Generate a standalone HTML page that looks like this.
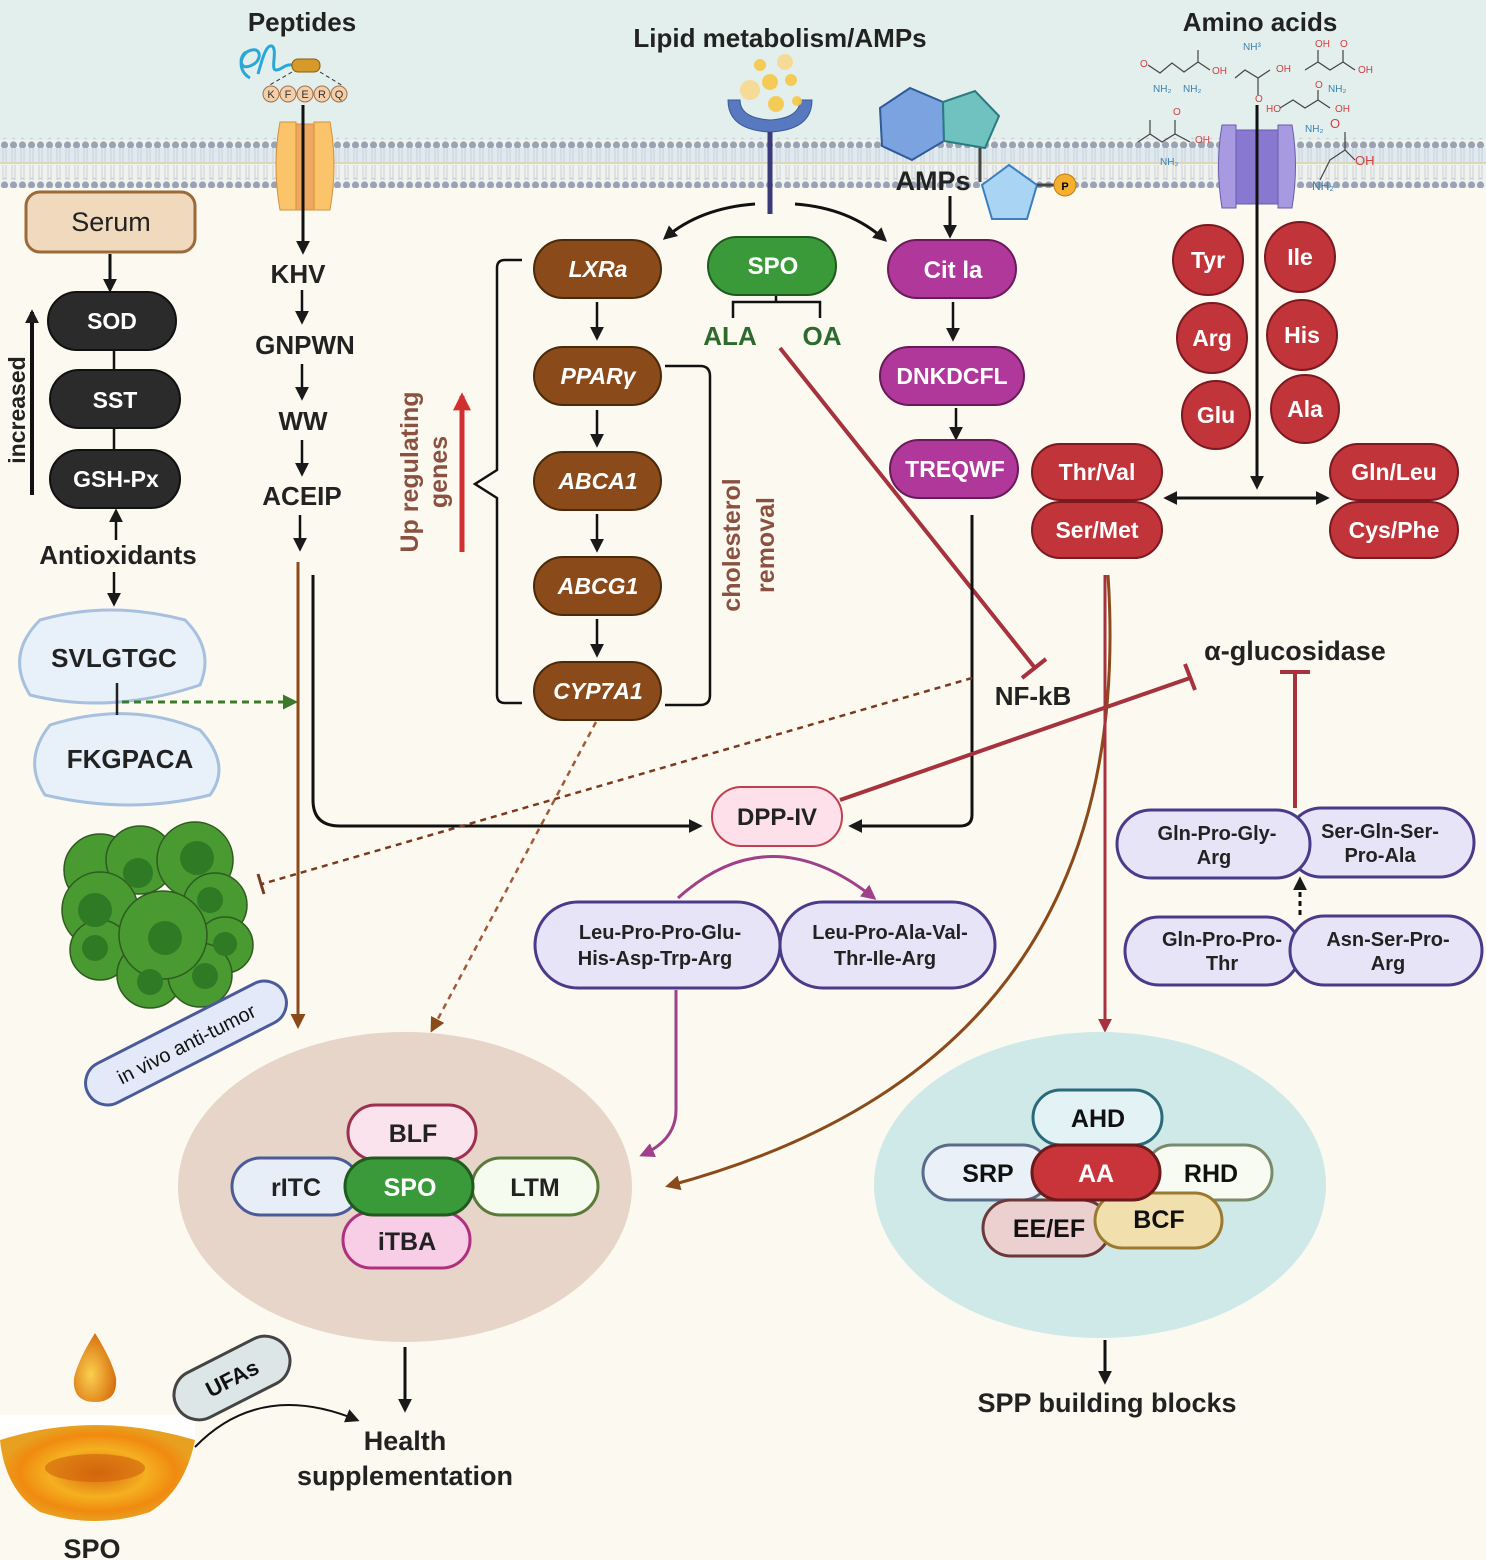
<!DOCTYPE html>
<html><head><meta charset="utf-8"><style>
html,body{margin:0;padding:0;background:#fcfaf0;}
svg{display:block;font-family:"Liberation Sans",sans-serif;}
.b{font-weight:bold;}
</style></head><body>
<svg width="1486" height="1560" viewBox="0 0 1486 1560" xmlns="http://www.w3.org/2000/svg">
<defs>
<pattern id="heads" x="0" y="0" width="9" height="10" patternUnits="userSpaceOnUse"><circle cx="4.5" cy="5" r="3.6" fill="#9aa3b5"/></pattern>
<pattern id="tails" x="0" y="0" width="9" height="18" patternUnits="userSpaceOnUse"><path d="M3 0 L3 18 M6 0 L6 18" stroke="#c3c8d3" stroke-width="0.8"/></pattern>
<marker id="ak" viewBox="0 0 10 10" refX="8" refY="5" markerWidth="14" markerHeight="14" markerUnits="userSpaceOnUse" orient="auto"><path d="M0 0 L10 5 L0 10 z" fill="#1a1a1a"/></marker>
<marker id="abr" viewBox="0 0 10 10" refX="8" refY="5" markerWidth="15" markerHeight="15" markerUnits="userSpaceOnUse" orient="auto"><path d="M0 0 L10 5 L0 10 z" fill="#8a4a1a"/></marker>
<marker id="ar" viewBox="0 0 10 10" refX="8" refY="5" markerWidth="14" markerHeight="14" markerUnits="userSpaceOnUse" orient="auto"><path d="M0 0 L10 5 L0 10 z" fill="#a5323c"/></marker>
<marker id="ared" viewBox="0 0 10 10" refX="8" refY="5" markerWidth="18" markerHeight="18" markerUnits="userSpaceOnUse" orient="auto"><path d="M0 0 L10 5 L0 10 z" fill="#d03030"/></marker>
<marker id="ap" viewBox="0 0 10 10" refX="8" refY="5" markerWidth="15" markerHeight="15" markerUnits="userSpaceOnUse" orient="auto"><path d="M0 0 L10 5 L0 10 z" fill="#a0408a"/></marker>
<marker id="ag" viewBox="0 0 10 10" refX="8" refY="5" markerWidth="15" markerHeight="15" markerUnits="userSpaceOnUse" orient="auto"><path d="M0 0 L10 5 L0 10 z" fill="#3a7a2a"/></marker>
<radialGradient id="oil" cx="50%" cy="50%" r="50%"><stop offset="0" stop-color="#d86a10"/><stop offset="0.5" stop-color="#f5b020"/><stop offset="0.8" stop-color="#f08a10"/><stop offset="1" stop-color="#e8a020"/></radialGradient>
<radialGradient id="drop" cx="40%" cy="60%" r="60%"><stop offset="0" stop-color="#fbd050"/><stop offset="1" stop-color="#d87010"/></radialGradient>
</defs>

<rect x="0" y="0" width="1486" height="140" fill="#e3efec"/>
<rect x="0" y="140" width="1486" height="48" fill="#f0f2ee"/>
<rect x="0" y="148" width="1486" height="14" fill="#dfe9f0"/>
<rect x="0" y="148" width="1486" height="15" fill="url(#tails)"/>
<rect x="0" y="165" width="1486" height="15" fill="url(#tails)"/>
<line x1="0" y1="163" x2="1486" y2="163" stroke="#ddd6b8" stroke-width="2"/>
<rect x="0" y="138" width="1486" height="10" fill="url(#heads)"/>
<rect x="0" y="178" width="1486" height="10" fill="url(#heads)"/>

<text x="302" y="31" class="b" font-size="26" text-anchor="middle" fill="#222">Peptides</text>
<text x="780" y="47" class="b" font-size="26" text-anchor="middle" fill="#222">Lipid metabolism/AMPs</text>
<text x="1260" y="31" class="b" font-size="26" text-anchor="middle" fill="#222">Amino acids</text>

<path d="M250 78 C236 70 240 52 252 50 C262 48 262 62 250 66 C240 70 238 58 246 52 M258 74 C262 60 266 44 272 46 C278 50 270 70 276 70 C282 70 284 64 292 65" fill="none" stroke="#29a8d8" stroke-width="3"/>
<rect x="292" y="59" width="28" height="13" rx="6" fill="#d59a2a" stroke="#8a5a10"/>
<path d="M292 72 L268 86 M320 72 L343 86" stroke="#333" stroke-dasharray="4 3"/>
<g font-size="11" text-anchor="middle" fill="#333">
<circle cx="271" cy="94" r="8" fill="#f5cfa8" stroke="#a07050"/><text x="271" y="98">K</text>
<circle cx="288" cy="94" r="8" fill="#f5cfa8" stroke="#a07050"/><text x="288" y="98">F</text>
<circle cx="305" cy="94" r="8" fill="#f5cfa8" stroke="#a07050"/><text x="305" y="98">E</text>
<circle cx="322" cy="94" r="8" fill="#f5cfa8" stroke="#a07050"/><text x="322" y="98">R</text>
<circle cx="339" cy="94" r="8" fill="#f5cfa8" stroke="#a07050"/><text x="339" y="98">Q</text>
</g>
<path d="M280 122 Q272 165 280 210 L296 210 L296 122 Z" fill="#fcc46a" stroke="#d09040"/>
<path d="M330 122 Q338 165 330 210 L314 210 L314 122 Z" fill="#fcc46a" stroke="#d09040"/>
<rect x="296" y="124" width="18" height="86" fill="#eea860" stroke="#d09040"/>
<line x1="303" y1="105" x2="303" y2="252" stroke="#111" stroke-width="3" marker-end="url(#ak)"/>

<path d="M728 100 Q728 130 770 132 Q812 130 812 100 L800 100 Q800 118 770 120 Q740 118 740 100 Z" fill="#5878c0" stroke="#3a5a9a"/>
<line x1="770" y1="132" x2="770" y2="214" stroke="#3a3a7a" stroke-width="5"/>
<g fill="#f8c848" opacity="0.9"><circle cx="760" cy="65" r="6"/><circle cx="785" cy="62" r="8" fill="#f8d890"/><circle cx="770" cy="82" r="8"/><circle cx="791" cy="80" r="6"/><circle cx="750" cy="90" r="10" fill="#f8d890"/><circle cx="776" cy="104" r="8"/><circle cx="797" cy="101" r="5"/></g>
<path d="M755 204 Q700 208 665 238" fill="none" stroke="#111" stroke-width="3" marker-end="url(#ak)"/>
<path d="M795 204 Q850 208 885 240" fill="none" stroke="#111" stroke-width="3" marker-end="url(#ak)"/>

<polygon points="880,108 910,88 943,102 944,141 912,160 882,146" fill="#7aa3e0" stroke="#2e5a9a" stroke-width="2"/>
<polygon points="943,102 975,91 999,116 985,148 944,141" fill="#6fc2c0" stroke="#2a7a80" stroke-width="2"/>
<line x1="980" y1="148" x2="980" y2="182" stroke="#444" stroke-width="3"/>
<polygon points="1009,165 1037,185 1027,219 992,219 982,185" fill="#aad4f4" stroke="#3a80c0" stroke-width="2"/>
<line x1="1037" y1="185" x2="1054" y2="185" stroke="#444" stroke-width="3"/>
<circle cx="1065" cy="185" r="11" fill="#f5b030" stroke="#c07a10"/><text x="1065" y="190" font-size="11" class="b" text-anchor="middle">P</text>
<text x="933" y="190" class="b" font-size="27" text-anchor="middle" fill="#222">AMPs</text>
<line x1="950" y1="196" x2="950" y2="236" stroke="#111" stroke-width="3" marker-end="url(#ak)"/>

<g font-size="10" fill="#d04040" stroke="none">
<text x="1140" y="67">O</text><text x="1212" y="74">OH</text><text x="1153" y="92" fill="#3a80b0">NH₂</text><text x="1183" y="92" fill="#3a80b0">NH₂</text>
<text x="1243" y="50" fill="#3a80b0">NH³</text><text x="1276" y="72">OH</text><text x="1255" y="102">O</text>
<text x="1315" y="47">OH</text><text x="1340" y="47">O</text><text x="1358" y="73">OH</text><text x="1328" y="92" fill="#3a80b0">NH₂</text>
<text x="1266" y="112">HO</text><text x="1315" y="88">O</text><text x="1335" y="112">OH</text><text x="1305" y="132" fill="#3a80b0">NH₂</text>
<text x="1173" y="115">O</text><text x="1195" y="143">OH</text><text x="1160" y="165" fill="#3a80b0">NH₂</text>
<text x="1330" y="128" font-size="13">O</text><text x="1355" y="165" font-size="13">OH</text><text x="1312" y="190" fill="#3a80b0" font-size="12">NH₂</text>
</g>
<g stroke="#444" stroke-width="1.2" fill="none">
<path d="M1148 65 L1160 73 L1172 63 L1184 72 L1198 62 L1210 70 M1198 62 L1198 50"/>
<path d="M1235 78 L1245 70 L1258 78 L1270 70 M1258 78 L1258 95"/>
<path d="M1305 70 L1318 62 L1330 70 L1343 62 L1355 70 M1343 62 L1343 50 M1318 62 L1318 50"/>
<path d="M1280 108 L1293 100 L1305 108 L1318 100 L1330 108 M1318 100 L1318 90"/>
<path d="M1138 142 L1150 134 L1162 142 L1175 134 L1190 142 M1150 134 L1150 120 M1175 134 L1175 120"/>
<path d="M1320 180 L1330 160 L1345 150 L1355 160 M1345 150 L1345 132"/>
</g>
<path d="M1222 125 Q1215 165 1222 208 L1236 208 L1236 125 Z" fill="#a89ae0" stroke="#6a5ab0"/>
<path d="M1292 125 Q1299 165 1292 208 L1278 208 L1278 125 Z" fill="#a89ae0" stroke="#6a5ab0"/>
<rect x="1236" y="130" width="42" height="74" fill="#8878d0" stroke="#6a5ab0"/>
<line x1="1257" y1="105" x2="1257" y2="487" stroke="#111" stroke-width="3" marker-end="url(#ak)"/>

<rect x="26" y="192" width="169" height="60" rx="14" fill="#f0d9bc" stroke="#9b6a3a" stroke-width="3"/>
<text x="111" y="231" font-size="27" text-anchor="middle" fill="#222">Serum</text>
<line x1="110" y1="254" x2="110" y2="290" stroke="#111" stroke-width="3" marker-end="url(#ak)"/>
<line x1="114" y1="350" x2="114" y2="370" stroke="#111" stroke-width="2.5"/>
<line x1="114" y1="428" x2="114" y2="450" stroke="#111" stroke-width="2.5"/>
<rect x="48" y="292" width="128" height="58" rx="29" fill="#2b2b2b" stroke="#111" stroke-width="2"/>
<text x="112" y="329" class="b" font-size="23" text-anchor="middle" fill="#fff">SOD</text>
<rect x="50" y="370" width="130" height="58" rx="29" fill="#2b2b2b" stroke="#111" stroke-width="2"/>
<text x="115" y="408" class="b" font-size="23" text-anchor="middle" fill="#fff">SST</text>
<rect x="50" y="450" width="130" height="58" rx="29" fill="#2b2b2b" stroke="#111" stroke-width="2"/>
<text x="116" y="487" class="b" font-size="23" text-anchor="middle" fill="#fff">GSH-Px</text>
<line x1="32" y1="495" x2="32" y2="312" stroke="#111" stroke-width="4" marker-end="url(#ak)"/>
<text transform="translate(25,410) rotate(-90)" class="b" font-size="23" text-anchor="middle" fill="#222">increased</text>
<line x1="116" y1="540" x2="116" y2="511" stroke="#111" stroke-width="2.5" marker-end="url(#ak)"/>
<text x="118" y="564" class="b" font-size="26" text-anchor="middle" fill="#222">Antioxidants</text>
<line x1="114" y1="572" x2="114" y2="604" stroke="#111" stroke-width="2.5" marker-end="url(#ak)"/>
<path d="M40 620 Q110 600 185 620 Q215 650 200 685 Q110 715 30 695 Q5 655 40 620 Z" fill="#e8f0fa" stroke="#a7c0e0" stroke-width="3"/>
<text x="114" y="667" class="b" font-size="26" text-anchor="middle" fill="#222">SVLGTGC</text>
<path d="M50 725 Q130 700 200 730 Q232 765 210 795 Q130 815 45 795 Q22 760 50 725 Z" fill="#e8f0fa" stroke="#a7c0e0" stroke-width="3"/>
<text x="130" y="768" class="b" font-size="26" text-anchor="middle" fill="#222">FKGPACA</text>
<line x1="117" y1="683" x2="117" y2="715" stroke="#222" stroke-width="2.5"/>
<line x1="122" y1="702" x2="295" y2="702" stroke="#3a7a2a" stroke-width="3" stroke-dasharray="7 5" marker-end="url(#ag)"/>

<g stroke="#2f5a20" stroke-width="1.5">
<circle cx="100" cy="870" r="36" fill="#4a9a32"/><circle cx="140" cy="860" r="34" fill="#4a9a32"/><circle cx="195" cy="860" r="38" fill="#4a9a32"/>
<circle cx="100" cy="910" r="38" fill="#4a9a32"/><circle cx="215" cy="905" r="32" fill="#4a9a32"/><circle cx="100" cy="950" r="30" fill="#4a9a32"/>
<circle cx="225" cy="945" r="28" fill="#4a9a32"/><circle cx="150" cy="975" r="33" fill="#4a9a32"/><circle cx="200" cy="975" r="32" fill="#4a9a32"/>
<circle cx="163" cy="935" r="44" fill="#4a9a32"/>
</g>
<g fill="#2f7a24"><circle cx="138" cy="873" r="15"/><circle cx="197" cy="858" r="17"/><circle cx="95" cy="910" r="17"/><circle cx="210" cy="900" r="13"/><circle cx="165" cy="938" r="17"/><circle cx="95" cy="948" r="13"/><circle cx="225" cy="944" r="12"/><circle cx="150" cy="982" r="13"/><circle cx="205" cy="976" r="13"/></g>
<g transform="translate(186,1043) rotate(-27)">
<rect x="-110" y="-22" width="220" height="44" rx="22" fill="#e3e9f8" stroke="#4a5a9a" stroke-width="3"/>
<text x="0" y="8" font-size="20" text-anchor="middle" fill="#111">in vivo anti-tumor</text>
</g>

<text x="298" y="283" class="b" font-size="26" text-anchor="middle" fill="#222">KHV</text>
<line x1="302" y1="290" x2="302" y2="322" stroke="#111" stroke-width="2.5" marker-end="url(#ak)"/>
<text x="305" y="354" class="b" font-size="26" text-anchor="middle" fill="#222">GNPWN</text>
<line x1="302" y1="364" x2="302" y2="398" stroke="#111" stroke-width="2.5" marker-end="url(#ak)"/>
<text x="303" y="430" class="b" font-size="26" text-anchor="middle" fill="#222">WW</text>
<line x1="302" y1="440" x2="302" y2="474" stroke="#111" stroke-width="2.5" marker-end="url(#ak)"/>
<text x="302" y="505" class="b" font-size="26" text-anchor="middle" fill="#222">ACEIP</text>
<line x1="300" y1="515" x2="300" y2="549" stroke="#111" stroke-width="2.5" marker-end="url(#ak)"/>
<line x1="298" y1="562" x2="298" y2="1026" stroke="#8a4a1a" stroke-width="3" marker-end="url(#abr)"/>
<path d="M313 575 L313 800 Q313 826 340 826 L700 826" fill="none" stroke="#111" stroke-width="3" marker-end="url(#ak)"/>

<path d="M522 260 L505 260 Q497 260 497 268 L497 470 L475 484 L497 498 L497 695 Q497 703 505 703 L522 703" fill="none" stroke="#111" stroke-width="2.5"/>
<path d="M665 366 L700 366 Q710 366 710 376 L710 695 Q710 705 700 705 L665 705" fill="none" stroke="#111" stroke-width="2.5"/>
<line x1="462" y1="552" x2="462" y2="396" stroke="#d03030" stroke-width="5" marker-end="url(#ared)"/>
<text transform="translate(418,472) rotate(-90)" class="b" font-size="25" text-anchor="middle" fill="#8a5040">Up regulating</text>
<text transform="translate(447,472) rotate(-90)" class="b" font-size="25" text-anchor="middle" fill="#8a5040">genes</text>
<text transform="translate(740,545) rotate(-90)" class="b" font-size="25" text-anchor="middle" fill="#8a5040">cholesterol</text>
<text transform="translate(774,545) rotate(-90)" class="b" font-size="25" text-anchor="middle" fill="#8a5040">removal</text>
<g stroke="#111" stroke-width="2.5">
<line x1="597" y1="302" x2="597" y2="338" marker-end="url(#ak)"/>
<line x1="597" y1="410" x2="597" y2="445" marker-end="url(#ak)"/>
<line x1="597" y1="514" x2="597" y2="550" marker-end="url(#ak)"/>
<line x1="597" y1="619" x2="597" y2="655" marker-end="url(#ak)"/>
</g>
<g fill="#8a4a1a" stroke="#4a2a0a" stroke-width="2">
<rect x="534" y="240" width="127" height="58" rx="29"/>
<rect x="534" y="347" width="127" height="58" rx="29"/>
<rect x="534" y="452" width="127" height="58" rx="29"/>
<rect x="534" y="557" width="127" height="58" rx="29"/>
<rect x="534" y="662" width="127" height="58" rx="29"/>
</g>
<g class="b" font-size="23" font-style="italic" text-anchor="middle" fill="#fff">
<text x="598" y="277">LXRa</text><text x="598" y="384">PPARγ</text><text x="598" y="489">ABCA1</text><text x="598" y="594">ABCG1</text><text x="598" y="699">CYP7A1</text>
</g>

<rect x="708" y="237" width="128" height="58" rx="29" fill="#3a9a3a" stroke="#1f5a1f" stroke-width="2"/>
<text x="773" y="274" class="b" font-size="24" text-anchor="middle" fill="#fff">SPO</text>
<path d="M733 318 L733 302 L820 302 L820 318 M776 302 L776 296" fill="none" stroke="#111" stroke-width="2.5"/>
<text x="730" y="345" class="b" font-size="26" text-anchor="middle" fill="#2d6a2d">ALA</text>
<text x="822" y="345" class="b" font-size="26" text-anchor="middle" fill="#2d6a2d">OA</text>
<line x1="780" y1="348" x2="1035" y2="668" stroke="#a5323c" stroke-width="4"/>
<line x1="1022" y1="678" x2="1046" y2="659" stroke="#a5323c" stroke-width="4"/>
<text x="1033" y="705" class="b" font-size="26" text-anchor="middle" fill="#222">NF-kB</text>

<rect x="888" y="240" width="128" height="58" rx="29" fill="#b0389a" stroke="#6a1a5a" stroke-width="2"/>
<text x="953" y="278" class="b" font-size="24" text-anchor="middle" fill="#fff">Cit la</text>
<line x1="953" y1="302" x2="953" y2="339" stroke="#111" stroke-width="2.5" marker-end="url(#ak)"/>
<rect x="880" y="347" width="144" height="58" rx="29" fill="#b0389a" stroke="#6a1a5a" stroke-width="2"/>
<text x="952" y="384" class="b" font-size="23" text-anchor="middle" fill="#fff">DNKDCFL</text>
<line x1="956" y1="408" x2="956" y2="438" stroke="#111" stroke-width="2.5" marker-end="url(#ak)"/>
<rect x="890" y="440" width="128" height="58" rx="29" fill="#b0389a" stroke="#6a1a5a" stroke-width="2"/>
<text x="955" y="477" class="b" font-size="23" text-anchor="middle" fill="#fff">TREQWF</text>
<path d="M972 515 L972 815 Q972 826 960 826 L851 826" fill="none" stroke="#111" stroke-width="3" marker-end="url(#ak)"/>

<g fill="#c0343a" stroke="#7a1a20" stroke-width="2">
<circle cx="1208" cy="260" r="35"/><circle cx="1300" cy="257" r="35"/><circle cx="1212" cy="338" r="35"/><circle cx="1302" cy="335" r="35"/><circle cx="1216" cy="415" r="34"/><circle cx="1305" cy="409" r="34"/>
<rect x="1032" y="444" width="130" height="56" rx="28"/><rect x="1032" y="502" width="130" height="56" rx="28"/>
<rect x="1330" y="444" width="128" height="56" rx="28"/><rect x="1330" y="502" width="128" height="56" rx="28"/>
</g>
<g class="b" font-size="23" text-anchor="middle" fill="#fff">
<text x="1208" y="268">Tyr</text><text x="1300" y="265">Ile</text><text x="1212" y="346">Arg</text><text x="1302" y="343">His</text><text x="1216" y="423">Glu</text><text x="1305" y="417">Ala</text>
<text x="1097" y="480">Thr/Val</text><text x="1097" y="538">Ser/Met</text><text x="1394" y="480">Gln/Leu</text><text x="1394" y="538">Cys/Phe</text>
</g>
<line x1="1185" y1="498" x2="1327" y2="498" stroke="#111" stroke-width="3" marker-end="url(#ak)"/>
<line x1="1300" y1="498" x2="1166" y2="498" stroke="#111" stroke-width="3" marker-end="url(#ak)"/>

<text x="1295" y="660" class="b" font-size="27" text-anchor="middle" fill="#222">α-glucosidase</text>
<line x1="1295" y1="808" x2="1295" y2="672" stroke="#a5323c" stroke-width="4"/>
<line x1="1280" y1="672" x2="1310" y2="672" stroke="#a5323c" stroke-width="4"/>
<line x1="840" y1="800" x2="1190" y2="678" stroke="#a5323c" stroke-width="4"/>
<line x1="1185" y1="664" x2="1195" y2="690" stroke="#a5323c" stroke-width="4"/>

<line x1="972" y1="678" x2="262" y2="884" stroke="#7a3a20" stroke-width="2.5" stroke-dasharray="6 5"/>
<line x1="258" y1="874" x2="264" y2="894" stroke="#7a3a20" stroke-width="3"/>
<line x1="596" y1="722" x2="432" y2="1030" stroke="#a05a3a" stroke-width="2.5" stroke-dasharray="6 5" marker-end="url(#abr)"/>

<rect x="712" y="787" width="130" height="59" rx="29.5" fill="#fde0ea" stroke="#c04050" stroke-width="2"/>
<text x="777" y="825" class="b" font-size="24" text-anchor="middle" fill="#222">DPP-IV</text>
<path d="M678 898 Q770 815 874 898" fill="none" stroke="#a0408a" stroke-width="3" marker-end="url(#ap)"/>
<rect x="535" y="902" width="245" height="86" rx="43" fill="#e8e4f8" stroke="#4a3a8a" stroke-width="3"/>
<rect x="780" y="902" width="215" height="86" rx="43" fill="#e8e4f8" stroke="#4a3a8a" stroke-width="3"/>
<g class="b" font-size="20" text-anchor="middle" fill="#222">
<text x="660" y="939">Leu-Pro-Pro-Glu-</text><text x="655" y="965">His-Asp-Trp-Arg</text>
<text x="890" y="939">Leu-Pro-Ala-Val-</text><text x="885" y="965">Thr-Ile-Arg</text>
</g>
<path d="M676 990 L676 1110 Q676 1140 642 1155" fill="none" stroke="#a0408a" stroke-width="3" marker-end="url(#ap)"/>

<path d="M1108 575 Q1140 1060 668 1186" fill="none" stroke="#8a4a1a" stroke-width="3" marker-end="url(#abr)"/>
<line x1="1105" y1="575" x2="1105" y2="1030" stroke="#a5323c" stroke-width="3" marker-end="url(#ar)"/>

<g fill="#e8e4f8" stroke="#4a3a8a" stroke-width="3">
<rect x="1287" y="808" width="187" height="69" rx="34.5"/>
<rect x="1117" y="810" width="193" height="68" rx="34"/>
<rect x="1125" y="917" width="175" height="68" rx="34"/>
<rect x="1290" y="916" width="192" height="69" rx="34.5"/>
</g>
<g class="b" font-size="20" text-anchor="middle" fill="#222">
<text x="1217" y="840">Gln-Pro-Gly-</text><text x="1214" y="864">Arg</text>
<text x="1380" y="838">Ser-Gln-Ser-</text><text x="1380" y="862">Pro-Ala</text>
<text x="1222" y="946">Gln-Pro-Pro-</text><text x="1222" y="970">Thr</text>
<text x="1388" y="946">Asn-Ser-Pro-</text><text x="1388" y="970">Arg</text>
</g>
<line x1="1300" y1="915" x2="1300" y2="879" stroke="#111" stroke-width="3" stroke-dasharray="5 4" marker-end="url(#ak)"/>

<ellipse cx="405" cy="1187" rx="227" ry="155" fill="#e6d5c8"/>
<rect x="348" y="1105" width="128" height="55" rx="27.5" fill="#fbe3ee" stroke="#a03050" stroke-width="3"/>
<text x="413" y="1142" class="b" font-size="25" text-anchor="middle" fill="#222">BLF</text>
<rect x="232" y="1158" width="128" height="57" rx="28.5" fill="#e8eef8" stroke="#4a5a9a" stroke-width="3"/>
<text x="296" y="1196" class="b" font-size="25" text-anchor="middle" fill="#222">rITC</text>
<rect x="472" y="1158" width="126" height="57" rx="28.5" fill="#f6fbef" stroke="#5a7a3a" stroke-width="3"/>
<text x="535" y="1196" class="b" font-size="25" text-anchor="middle" fill="#222">LTM</text>
<rect x="343" y="1212" width="127" height="56" rx="28" fill="#f8cde6" stroke="#b03080" stroke-width="3"/>
<text x="407" y="1250" class="b" font-size="25" text-anchor="middle" fill="#222">iTBA</text>
<rect x="345" y="1158" width="128" height="57" rx="28.5" fill="#3a9a3a" stroke="#1f5a1f" stroke-width="3"/>
<text x="410" y="1196" class="b" font-size="25" text-anchor="middle" fill="#fff">SPO</text>
<line x1="405" y1="1347" x2="405" y2="1410" stroke="#111" stroke-width="3" marker-end="url(#ak)"/>
<text x="405" y="1450" class="b" font-size="27" text-anchor="middle" fill="#222">Health</text>
<text x="405" y="1485" class="b" font-size="27" text-anchor="middle" fill="#222">supplementation</text>

<ellipse cx="1100" cy="1185" rx="226" ry="153" fill="#cfe8e8"/>
<rect x="1033" y="1090" width="129" height="55" rx="27.5" fill="#e3f3f5" stroke="#2a6a7a" stroke-width="3"/>
<text x="1098" y="1127" class="b" font-size="25" text-anchor="middle" fill="#111">AHD</text>
<rect x="923" y="1145" width="127" height="55" rx="27.5" fill="#eaf0f8" stroke="#5a6a8a" stroke-width="3"/>
<text x="988" y="1182" class="b" font-size="25" text-anchor="middle" fill="#111">SRP</text>
<rect x="1145" y="1145" width="127" height="55" rx="27.5" fill="#f8fbf2" stroke="#7a8a6a" stroke-width="3"/>
<text x="1211" y="1182" class="b" font-size="25" text-anchor="middle" fill="#111">RHD</text>
<rect x="983" y="1200" width="127" height="56" rx="28" fill="#ecd0d0" stroke="#6a3a3a" stroke-width="3"/>
<text x="1049" y="1237" class="b" font-size="25" text-anchor="middle" fill="#111">EE/EF</text>
<rect x="1095" y="1193" width="127" height="55" rx="27.5" fill="#f2dfae" stroke="#9a7a30" stroke-width="3"/>
<text x="1159" y="1228" class="b" font-size="25" text-anchor="middle" fill="#111">BCF</text>
<rect x="1032" y="1145" width="128" height="55" rx="27.5" fill="#c8343a" stroke="#6a1a1a" stroke-width="3"/>
<text x="1096" y="1182" class="b" font-size="25" text-anchor="middle" fill="#fff">AA</text>
<line x1="1105" y1="1340" x2="1105" y2="1382" stroke="#111" stroke-width="3" marker-end="url(#ak)"/>
<text x="1107" y="1412" class="b" font-size="27" text-anchor="middle" fill="#222">SPP building blocks</text>

<rect x="0" y="1415" width="195" height="25" fill="#fff"/>
<path d="M95 1333 Q78 1360 74 1378 Q72 1402 95 1402 Q118 1402 116 1378 Q112 1360 95 1333 Z" fill="url(#drop)"/>
<path d="M0 1440 Q95 1410 195 1440 Q185 1490 150 1512 Q95 1530 40 1512 Q5 1490 0 1440 Z" fill="url(#oil)"/>
<ellipse cx="95" cy="1468" rx="50" ry="14" fill="#d0600c" opacity="0.6"/>
<text x="92" y="1558" class="b" font-size="27" text-anchor="middle" fill="#222">SPO</text>
<g transform="translate(232,1378) rotate(-27)">
<rect x="-62" y="-25" width="124" height="50" rx="25" fill="#dde6e6" stroke="#444" stroke-width="3"/>
<text x="0" y="8" class="b" font-size="22" text-anchor="middle" fill="#111">UFAs</text>
</g>
<path d="M195 1447 Q260 1380 357 1420" fill="none" stroke="#111" stroke-width="2" marker-end="url(#ak)"/>
</svg>
</body></html>
